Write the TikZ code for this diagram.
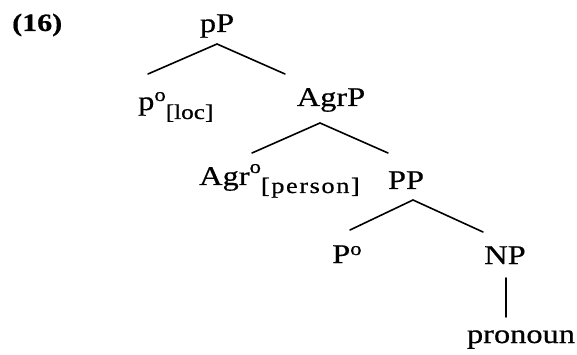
\documentclass[tikz,border=0pt]{standalone}
\usepackage{fontspec}
\setmainfont{Liberation Serif}[FakeStretch=1.2,FakeBold=0.6]
\newcommand\mysup[3]{\raisebox{#1}{\fontsize{#2}{20}\selectfont #3}}
\begin{document}
\begin{tikzpicture}[x=1pt,y=-1pt,
  lab/.style={inner sep=0pt, anchor=base, font=\fontsize{27}{30}\selectfont},
  branch/.style={line width=1.6pt, line cap=round}]
\path[use as bounding box] (0,0) rectangle (577,355);
\node[lab, anchor=base west, font=\fontsize{25}{28}\selectfont\bfseries] (ex) at (12,31) {(16)};
\node[lab] (pP) at (217,32) {pP};
\node[lab, anchor=base west] (ploc) at (138,110) {p\mysup{9pt}{19}{o}\mysup{-9pt}{21}{[loc]}};
\node[lab] (AgrP) at (331,106) {AgrP};
\node[lab, anchor=base west] (agr) at (199,185) {Agr\mysup{12pt}{19}{o}\mysup{-8pt}{22}{\addfontfeature{LetterSpace=7}[person]}};
\node[lab] (PP) at (406,189) {PP};
\node[lab, anchor=base west] (Po) at (332,263) {P\mysup{8pt}{19}{o}};
\node[lab] (NP) at (505,264) {NP};
\node[lab] (pron) at (521,343) {pronoun};
% branch points
\coordinate (pPa) at (217,44);
\coordinate (plocT) at (148,74);
\coordinate (AgrPT) at (285,74);
\coordinate (AgrPa) at (320,123);
\coordinate (agrT) at (252,153);
\coordinate (PPT) at (388,153);
\coordinate (PPa) at (413,200);
\coordinate (PoT) at (350,230);
\coordinate (NPT) at (483,232);
\coordinate (NPa) at (506,278);
\coordinate (pronT) at (506,317);
\draw[branch] (plocT) -- (pPa) -- (AgrPT);
\draw[branch] (agrT) -- (AgrPa) -- (PPT);
\draw[branch] (PoT) -- (PPa) -- (NPT);
\draw[branch] (NPa) -- (pronT);
\end{tikzpicture}
\end{document}
